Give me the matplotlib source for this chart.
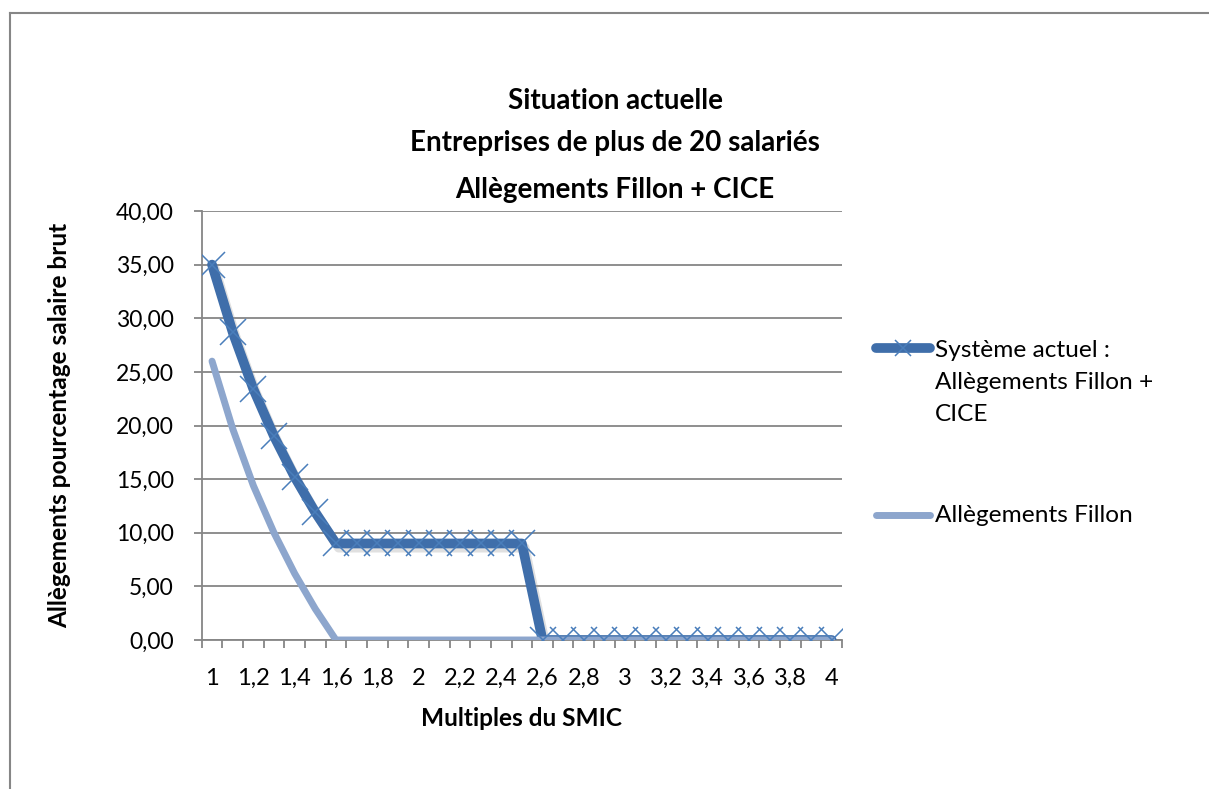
import matplotlib
matplotlib.use("Agg")
import matplotlib.pyplot as plt
import matplotlib.patheffects as pe
from matplotlib.lines import Line2D

# multiples du SMIC (categories)
multiples = ["1", "1,1", "1,2", "1,3", "1,4", "1,5", "1,6", "1,7", "1,8", "1,9", "2",
             "2,1", "2,2", "2,3", "2,4", "2,5", "2,6", "2,7", "2,8", "2,9", "3",
             "3,1", "3,2", "3,3", "3,4", "3,5", "3,6", "3,7", "3,8", "3,9", "4"]

fillon_cice = [35.0, 28.7, 23.4, 19.0, 15.2, 11.9, 9.0, 9.0, 9.0, 9.0, 9.0,
               9.0, 9.0, 9.0, 9.0, 9.0, 0, 0, 0, 0, 0,
               0, 0, 0, 0, 0, 0, 0, 0, 0, 0]
fillon = [26.0, 19.7, 14.4, 10.0, 6.2, 2.9, 0, 0, 0, 0, 0,
          0, 0, 0, 0, 0, 0, 0, 0, 0, 0,
          0, 0, 0, 0, 0, 0, 0, 0, 0, 0]

yticks = [0, 5, 10, 15, 20, 25, 30, 35, 40]

series_names = ["Système actuel :\nAllègements Fillon +\nCICE", "Allègements Fillon"]

DARK = "#3F6EAA"
MARK = "#4A7EBB"
LIGHT = "#8DA6CD"
GRID = "#868686"

plt.rcParams['font.family'] = ["Lato", 'DejaVu Sans']

W, H = 1209, 789
fig = plt.figure(figsize=(W / 100, H / 100), dpi=100)
ax = fig.add_axes([201.7 / W, 1 - 640 / H, (842 - 201.7) / W, (640 - 211) / H])

x = list(range(len(multiples)))
shadow = [pe.SimpleLineShadow(offset=(2, -3), shadow_color="#9a9a9a", alpha=0.3), pe.Normal()]

ax.plot(x, fillon_cice, color=DARK, lw=7, solid_capstyle="round",
        solid_joinstyle="round", zorder=3, path_effects=shadow)
ax.plot(x, fillon, color=LIGHT, lw=5, solid_capstyle="round",
        solid_joinstyle="round", zorder=4)
ax.plot(x, fillon_cice, ls="none", marker="x", ms=19, mew=1.1, color=MARK, zorder=5)

ax.set_xlim(-0.5, len(multiples) - 0.5)
ax.set_ylim(0, 40)
ax.set_yticks(yticks)
ax.set_yticklabels([f"{v:.2f}".replace(".", ",") for v in yticks])
ax.set_xticks(x[::2])
ax.set_xticklabels(multiples[::2])
ax.set_xticks([i - 0.5 for i in range(len(multiples) + 1)], minor=True)
ax.tick_params(axis="x", which="major", length=0, pad=20, labelsize=17)
ax.tick_params(axis="x", which="minor", length=6, width=1.3, color=GRID)
ax.tick_params(axis="y", length=6, width=1.3, color=GRID, pad=14, labelsize=16.5)

ax.grid(axis="y", color=GRID, lw=1.3)
ax.set_axisbelow(True)
for s in ["top", "right"]:
    ax.spines[s].set_visible(False)
for s in ["left", "bottom"]:
    ax.spines[s].set_color(GRID)
    ax.spines[s].set_linewidth(1.3)

ax.set_xlabel("Multiples du SMIC", fontsize=17.6, fontweight="bold")
ax.set_ylabel("Allègements pourcentage salaire brut", fontsize=17.6, fontweight="bold")
ax.xaxis.set_label_coords(0.5, -(718 - 640) / 429)
ax.yaxis.set_label_coords((60 - 201.7) / 640.3, 0.5)
ax.xaxis.label.set_va("center")
ax.yaxis.label.set_va("center")

fig.text(615 / W, 1 - 101 / H, "Situation actuelle", ha="center", va="center",
         fontsize=20, fontweight="bold")
fig.text(615 / W, 1 - 143 / H, "Entreprises de plus de 20 salariés", ha="center", va="center",
         fontsize=20, fontweight="bold")
fig.text(615 / W, 1 - 190 / H, "Allègements Fillon + CICE", ha="center", va="center",
         fontsize=20, fontweight="bold")

# legend, drawn by hand so the key sits on the first text line
hx0, hx1, tx = 876 / W, 930 / W, 935 / W
y1, y2 = 1 - 348 / H, 1 - 515 / H
fig.add_artist(Line2D([hx0, hx1], [y1, y1], color=DARK, lw=7, solid_capstyle="round"))
fig.add_artist(Line2D([(hx0 + hx1) / 2], [y1], ls="none", marker="x", ms=11, mew=1.1, color=MARK))
fig.add_artist(Line2D([hx0, hx1], [y2, y2], color=LIGHT, lw=5, solid_capstyle="round"))
fig.text(tx, y1 + 8 / H, series_names[0], ha="left", va="top", fontsize=17.6, linespacing=1.65)
fig.text(tx, y2, series_names[1], ha="left", va="center", fontsize=17.6)

# chart frame (cropped at right and bottom)
fig.add_artist(Line2D([10 / W, 1], [1 - 13 / H, 1 - 13 / H], color=GRID, lw=1.5))
fig.add_artist(Line2D([10 / W, 10 / W], [0, 1 - 13 / H], color=GRID, lw=1.5))

fig.savefig("out.png", dpi=100)
